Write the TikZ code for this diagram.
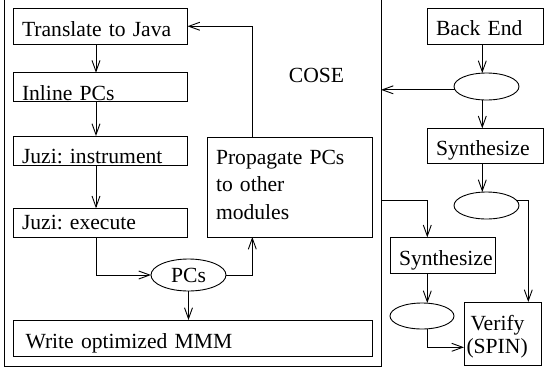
\documentclass[tikz,border=0pt]{standalone}
\usepackage{fontspec}
\setmainfont{Liberation Serif}
\usetikzlibrary{arrows.meta,shapes.geometric}
\setlength\parindent{0pt}
\frenchspacing
\begin{document}
\begin{tikzpicture}[x=1pt,y=-1pt,
  line width=0.9pt,
  every node/.style={font=\fontsize{21.6}{27.5}\selectfont},
  box/.style={draw, rectangle, anchor=north west, inner ysep=0pt,
              inner xsep=9pt, outer sep=0pt, align=left},
  oval/.style={draw, ellipse, inner sep=0pt, outer sep=0pt},
  arr/.style={-{Straight Barb[length=11pt,width=8pt]}},
]
\useasboundingbox (0,0) rectangle (544,370);
\clip (0,0) rectangle (544,370);

% outer COSE frame
\node[draw, rectangle, inner sep=0pt, outer sep=0pt, anchor=south west,
      minimum width=377pt, minimum height=372pt] (cose) at (4,366) {};
\node (lbl) at (316.5,75.5) {COSE};

% left column
\node[box, text width=156.5pt, text height=27.5pt, text depth=8pt]
  (tj) at (13,8.5) {Translate to Java};
\node[box, text width=156.5pt, text height=27.3pt, text depth=1.7pt]
  (ip) at (13,72.7) {Inline PCs};
\node[box, text width=156.5pt, text height=27.5pt, text depth=1.5pt]
  (ji) at (13,136) {Juzi: instrument};
\node[box, text width=156.5pt, text height=21pt, text depth=8.4pt]
  (je) at (13,208.3) {Juzi: execute};
\node[oval, minimum width=75pt, minimum height=32pt] (pcs) at (188.5,275) {PCs};
\node[box, inner xsep=12.5pt, text width=334pt, text height=28.3pt, text depth=8.4pt]
  (wm) at (13,320) {Write optimized MMM};
\node[box, text width=147pt, text height=27pt, text depth=73pt]
  (pp) at (207,137)
  {\begin{tabular}[t]{@{}l@{}}Propagate PCs\\to other\\modules\end{tabular}};

% right column
\node[box, text width=98pt, text height=27.4pt, text depth=8.6pt]
  (be) at (427,8.3) {Back End};
\node[oval, minimum width=65pt, minimum height=27pt] (e1) at (486.5,86.5) {};
\node[box, text width=98pt, text height=26.7pt, text depth=8.3pt]
  (s1) at (427,128.3) {Synthesize};
\node[oval, minimum width=65pt, minimum height=27pt] (e2) at (486.5,205.5) {};
\node[box, text width=87pt, text height=27.7pt, text depth=8.3pt]
  (s2) at (390,237.3) {Synthesize};
\node[oval, minimum width=64pt, minimum height=26pt] (e3) at (422,316) {};
\node[box, inner xsep=2.5pt, text width=72pt, text height=28.7pt, text depth=34.3pt,
      font=\fontsize{21.6}{23}\selectfont]
  (vf) at (464,302)
  {\begin{tabular}[t]{@{}l@{}}\hspace*{4pt}Verify\\(SPIN)\end{tabular}};

% connector columns and bends
\coordinate (colA) at (96,0);
\coordinate (colB) at (252.3,0);
\coordinate (colC) at (482.3,0);
\coordinate (colD) at (528.3,0);
\coordinate (colE) at (427.3,0);
\coordinate (tap) at (381,200.5);
\coordinate (low) at (0,347.3);

% COSE flow
\draw[arr] (tj.south -| colA) -- (ip.north -| colA);
\draw[arr] (ip.south -| colA) -- (ji.north -| colA);
\draw[arr] (ji.south -| colA) -- (je.north -| colA);
\draw[arr] (je.south -| colA) |- (pcs.west);
\draw[arr] (pcs.east) -| (pp.south -| colB);
\draw[arr] (pcs.south) -- (wm.north -| pcs.south);
\draw[arr] (pp.north -| colB) |- (tj.east);

% back end flow
\draw[arr] (be.south -| colC) -- (e1.north -| colC);
\draw[arr] (e1.186) -- (e1.186 -| cose.east);
\draw[arr] (e1.south -| colC) -- (s1.north -| colC);
\draw[arr] (s1.south -| colC) -- (e2.north -| colC);
\draw[arr] (e2.10) -| (vf.north -| colD);
\draw[arr] (tap) -| (s2.north -| colE);
\draw[arr] (s2.south -| colE) -- (e3.north -| colE);
\draw[arr] (e3.south -| colE) |- (vf.west |- low);
\end{tikzpicture}
\end{document}
